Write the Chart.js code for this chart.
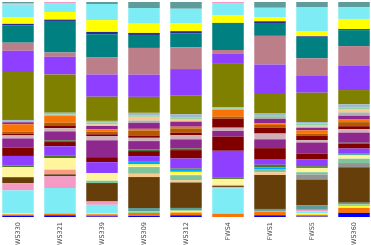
<!DOCTYPE html>
<html lang="en">

<head>
    <meta charset="UTF-8">
    <title>Stacked abundance</title>
    <script src="https://cdn.jsdelivr.net/npm/chart.js"></script>
    <style>
        body {
            margin: 0;
            background-color: #fff;
            overflow: hidden;
        }

        .wrap {
            position: absolute;
            left: -3px;
            top: 0;
            width: 378px;
            height: 245px;
        }
    </style>
</head>

<body>
    <div class="wrap"><canvas id="myChart"></canvas></div>

    <script>
        const samples = ['FWS330', 'FWS321', 'FWS339', 'FWS309', 'FWS312', 'FWS4', 'FWS1', 'FWS5', 'FWS360'];

        // stack order: first = bottom
        const b1 = [1.3, 1.7, 0.7, 1, 1.7, 0, 1.7, 0.5, 4];
        const o1 = [1.3, 1.7, 2, 3, 2.7, 3.3, 3.3, 1.7, 5];
        const y1 = [1, 0, 0.7, 0, 1.3, 0, 0, 1.3, 1.7];
        const lg1 = [0, 0, 0, 1.7, 1, 0, 1, 0, 1.7];
        const c1 = [22.7, 25.7, 8.7, 0, 0, 25.7, 0, 2, 0];
        const p1 = [7, 11.7, 3.3, 0, 0, 1, 0, 1.7, 0];
        const gt1 = [0, 0, 0, 3.3, 2.3, 0, 2, 4.3, 1.7];
        const br = [6, 2, 18.3, 31, 25.3, 1.2, 33.3, 26, 35];
        const gy1 = [0, 0, 0, 0, 0, 0, 0, 5, 4];
        const sal = [0, 4.7, 0, 0, 0, 1.2, 0, 0, 0];
        const tan1 = [0, 0, 0, 3.3, 2.3, 0, 2.7, 0, 0];
        const lg2 = [0, 0, 2.3, 6.7, 5, 0, 3.3, 2.3, 4.3];
        const ly = [10, 11.7, 7.7, 1, 2, 6, 0, 4.3, 3.3];
        const y2 = [0, 0, 0, 1.7, 1.3, 0, 0, 0, 0];
        const dsb = [0, 0, 0, 3.3, 2, 0, 1.5, 0, 0.7];
        const gr = [1.7, 2.7, 0, 0, 1.3, 1.7, 2.7, 1.7, 1];
        const pu1 = [9.3, 9, 10.7, 5, 10, 26.7, 5.7, 6.7, 5];
        const ma1 = [8.3, 4.3, 5, 5, 8.3, 14.3, 10.7, 6, 4.7];
        const gr2 = [0, 1.7, 0, 1.7, 1.7, 0, 0, 0, 1];
        const mp1 = [9, 9, 16.7, 8.3, 9, 5.7, 8.7, 11, 10];
        const lgr = [3, 3.3, 4.3, 3.3, 4.3, 3.3, 5.7, 2.3, 3.3];
        const ma2 = [1.7, 2.7, 1.7, 2.3, 2.3, 9, 5.7, 4.3, 3];
        const dor = [2, 2.7, 2.7, 5, 4.3, 2, 2.7, 2.3, 4];
        const o2 = [7.3, 6.7, 2.3, 1.7, 1.7, 7.3, 1.7, 3.3, 3];
        const mp2 = [2, 0, 3.3, 6, 5, 0, 4.3, 2.3, 3.3];
        const gy = [0, 0, 0, 2.3, 0, 0, 2, 1.5, 3.3];
        const tan2 = [0, 0, 1.5, 3.7, 2.7, 0, 0, 1.5, 3.3];
        const lg3 = [1.3, 1.7, 2, 1.3, 1.3, 1.2, 1, 1.5, 1.7];
        const gb = [1, 1.7, 1.5, 2.7, 3.3, 1.2, 2.3, 1.5, 3];
        const ol = [47.3, 38.3, 24, 16, 19, 43.7, 19.3, 29.3, 14];
        const pu2 = [21, 17.7, 22, 22.3, 26, 10, 29, 16.7, 24.3];
        const ro = [8, 4.3, 17.3, 26.7, 21.7, 4, 28.3, 17.7, 19];
        const te = [17.3, 31.7, 22.7, 13, 14, 27.3, 12.7, 21.3, 15.7];
        const nv = [1.3, 1.3, 2.3, 2, 2, 0, 1.7, 0.7, 1];
        const y3 = [6.7, 7.7, 11.7, 9.3, 8, 7.7, 4, 5.3, 10];
        const c2 = [12.4, 8.3, 16, 15.7, 14.3, 11.7, 9.3, 24, 11.7];
        const p2 = [1, 1.7, 0, 0, 0, 1.7, 0, 0, 0];
        const gt2 = [1.5, 0, 2, 6, 6.7, 0, 5.7, 5, 5];

        const series = [
            ['b1', b1, '#0000ff'], ['o1', o1, '#f97306'], ['y1', y1, '#ffff14'], ['lg1', lg1, '#8fd68f'],
            ['c1', c1, '#7eecf4'], ['p1', p1, '#f59ac5'], ['gt1', gt1, '#5e9b9b'], ['br', br, '#653e0a'],
            ['gy1', gy1, '#929591'], ['sal', sal, '#fa9a86'], ['tan1', tan1, '#f8c98a'], ['lg2', lg2, '#7fc49a'],
            ['ly', ly, '#fff59d'], ['y2', y2, '#ffff14'], ['dsb', dsb, '#00aaff'], ['gr', gr, '#4b7a1f'],
            ['pu1', pu1, '#8f3fff'], ['ma1', ma1, '#800000'], ['gr2', gr2, '#3f7a2f'], ['mp1', mp1, '#8e278e'],
            ['lgr', lgr, '#d0b0b8'], ['ma2', ma2, '#800000'], ['dor', dor, '#b35a00'], ['o2', o2, '#f97306'],
            ['mp2', mp2, '#8e278e'], ['gy', gy, '#b0b0b0'], ['tan2', tan2, '#fac890'], ['lg3', lg3, '#8fd0a0'],
            ['gb', gb, '#9db8d0'], ['ol', ol, '#808000'], ['pu2', pu2, '#8f3fff'], ['ro', ro, '#bc7f8a'],
            ['te', te, '#008080'], ['nv', nv, '#2a2a9a'], ['y3', y3, '#ffff00'], ['c2', c2, '#7eecf4'],
            ['p2', p2, '#f59ac5'], ['gt2', gt2, '#5e9b9b']
        ];

        // relative abundance per sample
        const totals = samples.map((_, i) => series.reduce((acc, s) => acc + s[1][i], 0));

        const datasets = series.map(s => ({
            label: s[0],
            data: s[1].map((v, i) => v / totals[i] * 100),
            backgroundColor: s[2],
            borderWidth: 0,
            barPercentage: 0.75,
            categoryPercentage: 1
        }));

        const ctx = document.getElementById('myChart').getContext('2d');
        new Chart(ctx, {
            type: 'bar',
            data: { labels: samples, datasets: datasets },
            options: {
                responsive: true,
                maintainAspectRatio: false,
                animation: false,
                layout: { padding: { top: 2, left: 0, right: 0, bottom: 0 } },
                plugins: { legend: { display: false }, tooltip: { enabled: false } },
                scales: {
                    x: {
                        stacked: true,
                        grid: { display: false, drawTicks: false },
                        border: { display: false },
                        ticks: {
                            minRotation: 90,
                            maxRotation: 90,
                            padding: 5,
                            color: '#444',
                            font: { family: 'DejaVu Sans', size: 6.5 }
                        },
                        afterFit: (s) => { s.height = 28; }
                    },
                    y: {
                        stacked: true,
                        display: false,
                        min: 0,
                        max: 100
                    }
                }
            }
        });
    </script>
</body>

</html>
